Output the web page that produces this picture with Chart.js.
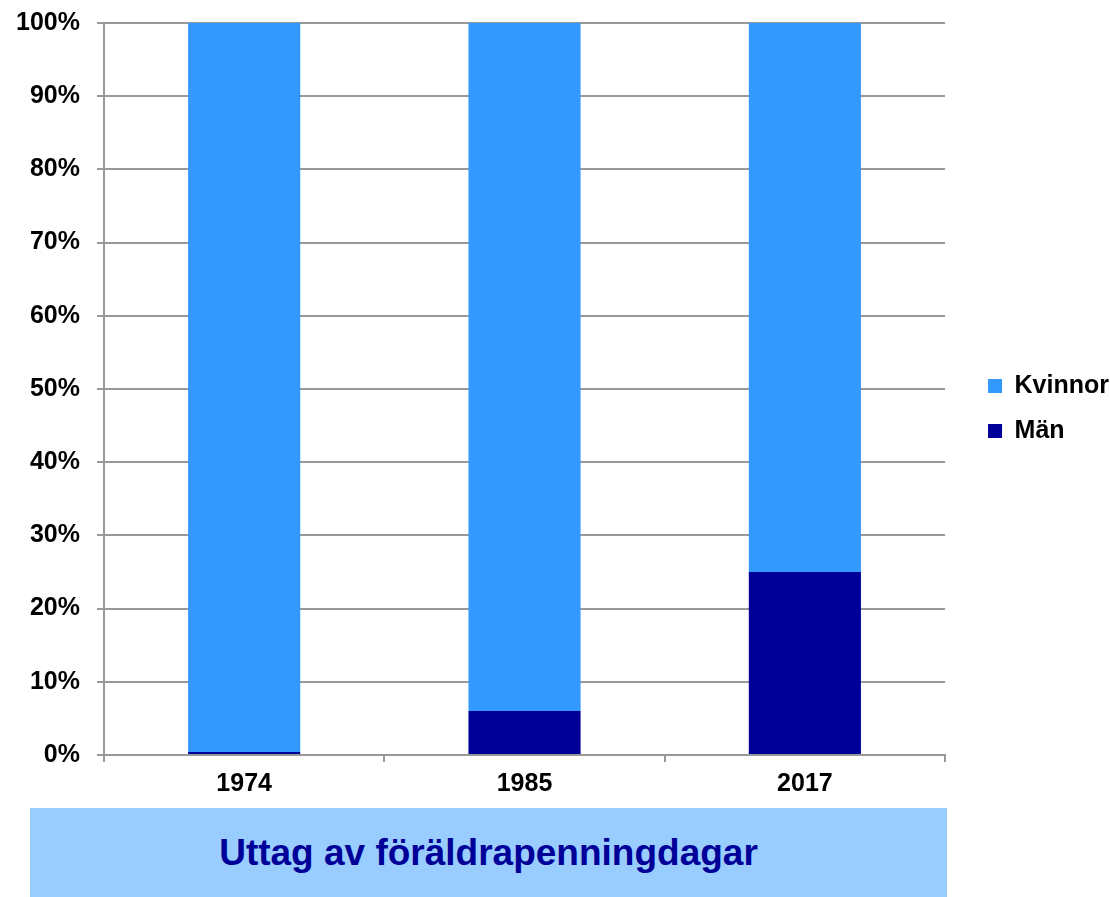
<!DOCTYPE html>
<html>
<head>
<meta charset="utf-8">
<script src="https://cdn.jsdelivr.net/npm/chart.js@4"></script>
<style>
  body { margin: 0; background: #fff; font-family: "Liberation Sans", Arial, sans-serif; overflow: hidden; }
  #wrap { position: relative; width: 1110px; height: 897px; overflow: hidden; }
  #chartBox { position: absolute; left: 0; top: -9px; width: 1110px; height: 817px; }
  #titleBox {
    position: absolute; left: 30px; top: 808px; width: 917px; height: 89px;
    background: #99ccff; color: #000099; font-weight: bold; font-size: 37px;
    display: flex; align-items: center; justify-content: center;
  }
</style>
</head>
<body>
<div id="wrap">
  <div id="chartBox"><canvas id="bar-chart"></canvas></div>
  <div id="titleBox">Uttag av föräldrapenningdagar</div>
</div>
<script>
// Data
const years = ["1974", "1985", "2017"];
const man = [0.4, 6, 25];
const kvinnor = [99.6, 94, 75];

const ctx = document.getElementById("bar-chart");

const tickFont = { family: "Liberation Sans", weight: "bold", size: 25 };
const gridColor = "#999999";

// nudge the legend a bit away from the plot area
const legendShift = {
  id: "legendShift",
  afterLayout(chart) {
    const lg = chart.legend;
    if (lg) {
      lg.left += 23;
      lg.right += 23;
      lg.top += 10;
      lg.bottom += 10;
    }
  },
};

new Chart(ctx, {
  type: "bar",
  data: {
    labels: years,
    datasets: [
      { label: "Män", data: man, backgroundColor: "#000099", barPercentage: 0.4, categoryPercentage: 1 },
      { label: "Kvinnor", data: kvinnor, backgroundColor: "#3399ff", barPercentage: 0.4, categoryPercentage: 1 },
    ],
  },
  options: {
    responsive: true,
    maintainAspectRatio: false,
    animation: false,
    layout: { padding: { top: 0, bottom: 2, left: 0, right: 14 } },
    plugins: {
      tooltip: { enabled: false },
      legend: {
        position: "right",
        reverse: true,
        labels: {
          color: "#000",
          font: tickFont,
          boxWidth: 14,
          boxHeight: 14,
          padding: 20,
        },
      },
    },
    scales: {
      x: {
        stacked: true,
        grid: { offset: true, drawOnChartArea: false, color: gridColor, lineWidth: 2, tickLength: 7 },
        border: { color: gridColor, width: 2 },
        ticks: { color: "#000", font: tickFont, padding: 7 },
      },
      y: {
        stacked: true,
        min: 0,
        max: 100,
        afterFit: (scale) => { scale.width = 104; },
        grid: { color: gridColor, lineWidth: 2, tickLength: 7 },
        border: { color: gridColor, width: 2 },
        ticks: {
          stepSize: 10,
          color: "#000",
          font: tickFont,
          padding: 17,
          callback: (v) => v + "%",
        },
      },
    },
  },
  plugins: [legendShift],
});
</script>
</body>
</html>
